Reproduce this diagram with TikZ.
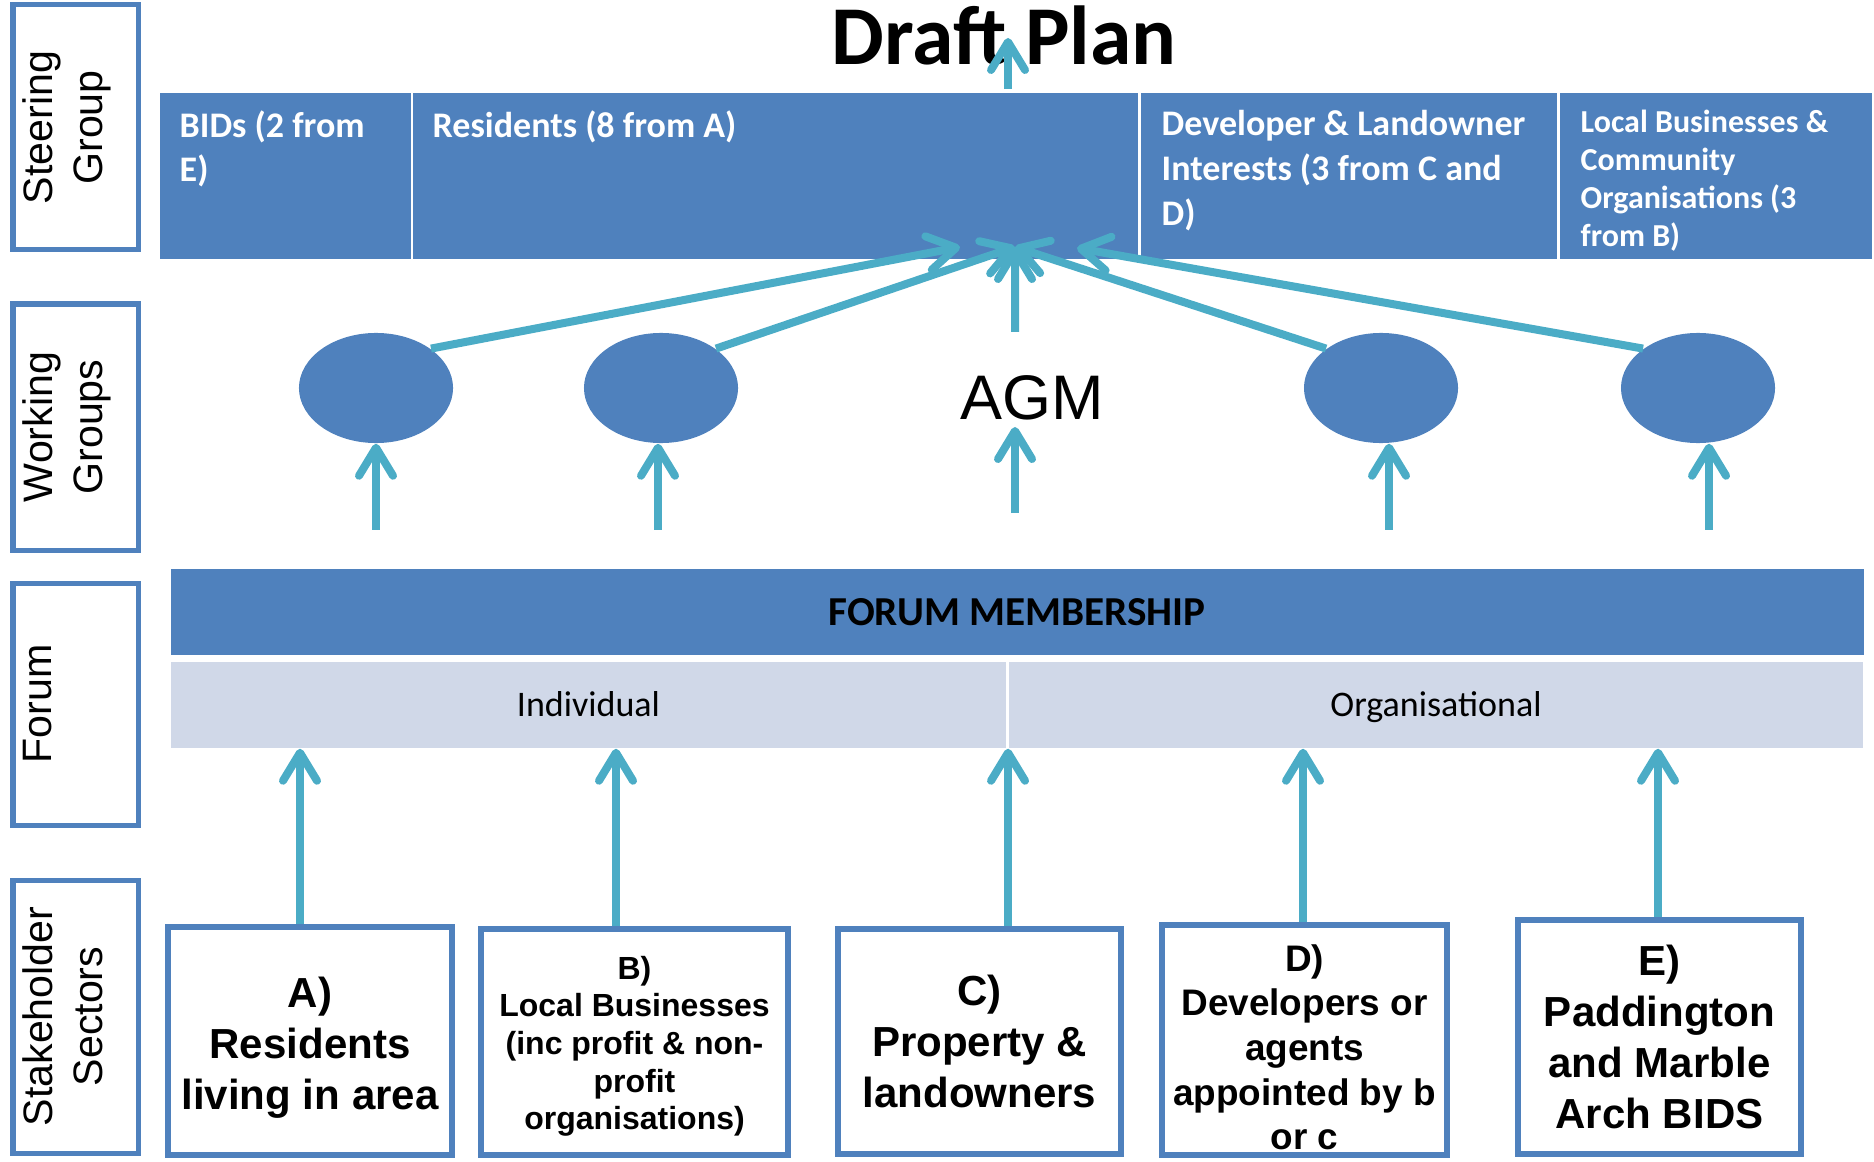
\documentclass[tikz,border=0pt]{standalone}
\usepackage{fontspec}
\setmainfont{Liberation Sans}
\newfontfamily\calibri{Carlito}
\usetikzlibrary{arrows.meta, shapes.geometric}

\definecolor{boxblue}{HTML}{4F81BD}
\definecolor{flowteal}{HTML}{4BACC6}
\definecolor{rowgrey}{HTML}{D0D8E8}

\begin{document}
\begin{tikzpicture}[x=0.01cm, y=-0.01cm,
    flow/.style={draw=flowteal, line width=0.8mm, -{Straight Barb[length=2.8mm, width=3.4mm, round]}},
    tierbox/.style={draw=boxblue, line width=0.5mm},
    tierlabel/.style={rotate=90, anchor=north, inner sep=0pt, align=center, font=\fontsize{11.7}{14.2}\selectfont},
    sgtext/.style={anchor=north west, inner sep=0pt, align=left, text=white, font=\calibri\bfseries\fontsize{10.24}{12.66}\selectfont},
    rowtext/.style={inner sep=0pt, text height=0.63em, text depth=0pt},
    wgroup/.style={ellipse, fill=boxblue, minimum width=1.54cm, minimum height=1.1cm, inner sep=0pt},
    sector/.style={draw=boxblue, line width=0.6mm, fill=white, align=center, inner sep=0pt},
    bigsector/.style={sector, font=\bfseries\fontsize{11.95}{14.5}\selectfont}]
    \useasboundingbox (0,0) rectangle (1874,1161);

    % Tier labels down the left
    \foreach \top/\bot/\txt [count=\i] in {5/250/Steering\\Group, 304/550/Working\\Groups, 583/825/Forum, 880/1153/Stakeholder\\Sectors} {
        \draw[tierbox] (13,\top) rectangle (138,\bot);
        \node[tierlabel] (tier\i) at (22,{(\top+\bot)/2}) {\txt};
    }

    % Steering group
    \foreach \l/\r in {160/411, 413/1138, 1141/1557, 1560/1872}
        \fill[boxblue] (\l,93) rectangle (\r,259);
    \node[sgtext] (sgbids) at (179,110) {BIDs (2 from\\E)};
    \node[sgtext] (sgres) at (432,110) {Residents (8 from A)};
    \node[sgtext] (sgdev) at (1161,110) {Developer \& Landowner\\Interests (3 from C and\\D)};
    \node[sgtext, font=\calibri\bfseries\fontsize{9.1}{10.8}\selectfont] (sgloc) at (1580,109) {Local Businesses \&\\Community\\Organisations (3\\from B)};

    % Draft plan
    \node[anchor=base, inner sep=0pt, font=\calibri\bfseries\fontsize{23.8}{28}\selectfont] (draft) at (1004,65) {Draft Plan};
    \draw[flow] ([xshift=0.4mm, yshift=-2.4mm]draft.base) -- ([xshift=0.4mm, yshift=2.7mm]draft.base);

    % Working groups and AGM
    \coordinate (convl) at (960,247);
    \coordinate (conv) at (1015,247);
    \coordinate (convr) at (1077,248);
    \foreach \x [count=\i] in {376, 661, 1381, 1698}
        \node[wgroup] (wg\i) at (\x,388) {};
    \node[inner sep=0pt, font=\fontsize{17.9}{21}\selectfont] (agm) at (1032,398) {AGM};

    \draw[flow] (wg1.north east) -- (convl);
    \draw[flow] (wg2.north east) -- (conv);
    \draw[flow] (wg3.north west) -- (conv);
    \draw[flow] (wg4.north west) -- (convr);
    \draw[flow] ([xshift=-1.7mm, yshift=4.3mm]agm.north) -- (conv);

    \foreach \i/\dx in {1/0, 2/-0.3, 3/0.8, 4/1.1}
        \draw[flow] ([xshift=\dx mm, yshift=-8.6mm]wg\i.south) -- ([xshift=\dx mm]wg\i.south);
    \draw[flow] ([xshift=-1.7mm, yshift=-9.2mm]agm.south) -- ([xshift=-1.7mm, yshift=-0.6mm]agm.south);

    % Forum
    \node[fill=boxblue, minimum width=16.92cm, minimum height=0.86cm, inner sep=0pt, font=\calibri\bfseries\fontsize{11.7}{14}\selectfont] (forum) at (1017,612) {FORUM MEMBERSHIP};
    \node[fill=rowgrey, minimum width=8.35cm, minimum height=0.86cm, rowtext, font=\calibri\fontsize{10.24}{12}\selectfont] (indiv) at (588.5,705) {Individual};
    \node[fill=rowgrey, minimum width=8.54cm, minimum height=0.86cm, rowtext, font=\calibri\fontsize{10.24}{12}\selectfont] (organ) at (1436,705) {Organisational};

    % Stakeholder sectors
    \node[bigsector, minimum width=2.84cm, minimum height=2.28cm] (secA) at (310,1041) {\rule{0pt}{12.7pt}A)\\Residents\\living in area};
    \node[sector, minimum width=3.07cm, minimum height=2.26cm, font=\bfseries\fontsize{9.1}{10.7}\selectfont] (secB) at (634.5,1042) {\rule{0pt}{9pt}B)\\Local Businesses\\(inc profit \& non-\\profit\\organisations)};
    \node[bigsector, minimum width=2.83cm, minimum height=2.25cm] (secC) at (979.5,1041.5) {C)\\Property \&\\landowners};
    \node[sector, minimum width=2.85cm, minimum height=2.3cm, font=\bfseries\fontsize{10.5}{12.7}\selectfont] (secD) at (1304.5,1040) {\rule{0pt}{11.7pt}D)\\Developers or\\agents\\appointed by b\\or c};
    \node[bigsector, minimum width=2.83cm, minimum height=2.34cm] (secE) at (1659.5,1037) {E)\\Paddington\\and Marble\\Arch BIDS};

    \foreach \s/\dx/\row in {secA/-1/indiv, secB/-1.85/indiv, secC/2.85/indiv, secD/-0.15/organ, secE/-0.15/organ}
        \draw[flow] ([xshift=\dx mm]\s.north) -- ([xshift=\dx mm]\s.north |- \row.south);
\end{tikzpicture}
\end{document}
